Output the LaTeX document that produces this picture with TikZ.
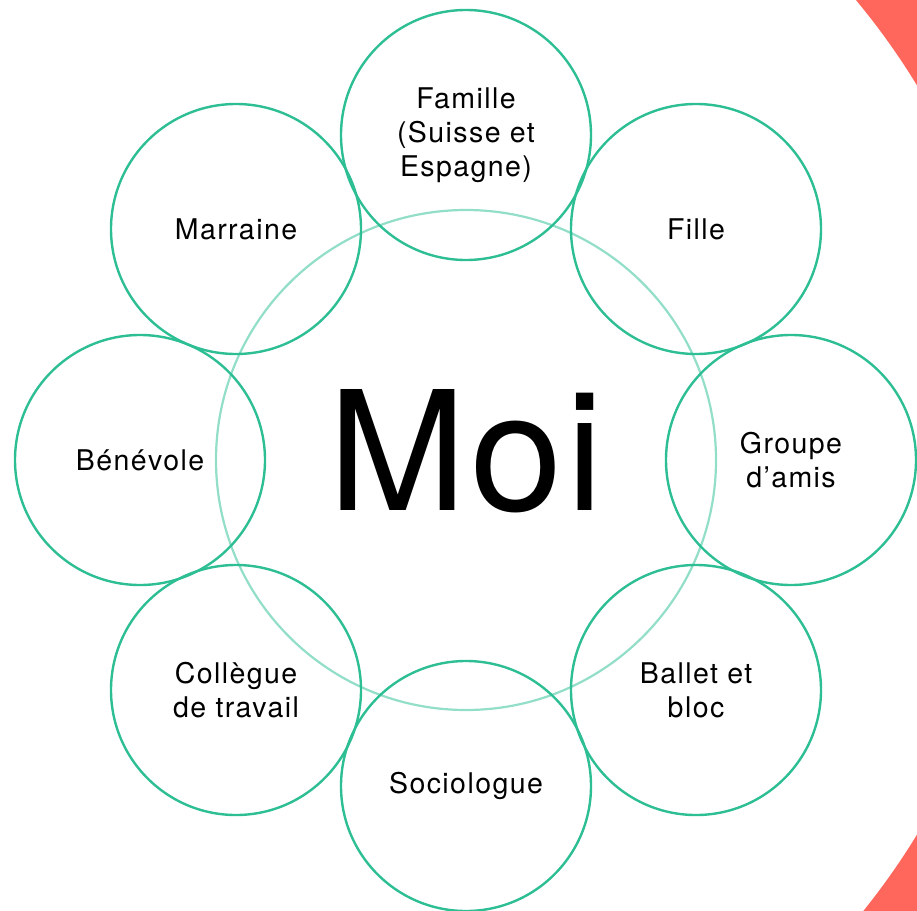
\documentclass[tikz,border=0pt]{standalone}
\usepackage{fontspec}
\setmainfont{TeX Gyre Heros}
\newfontfamily\lblfont[LetterSpace=5]{TeX Gyre Heros}
\definecolor{ringgreen}{HTML}{2DBE94}
\definecolor{coregreen}{HTML}{92DEC8}
\definecolor{accentred}{HTML}{FF675C}
\begin{document}
\begin{tikzpicture}[x=1pt,y=-1pt,
  satellite/.style={circle,draw=ringgreen,line width=2.4pt,minimum size=250pt,inner sep=0pt,
    align=center,font=\lblfont\fontsize{28.5}{34}\selectfont,text=black},
  core/.style={circle,draw=coregreen,line width=2.2pt,minimum size=500pt,inner sep=0pt}]
\useasboundingbox (0,0) rectangle (917,910);
\begin{scope}
  \clip (0,0) rectangle (917,910);
  \fill[accentred,even odd rule] (-10,-10) rectangle (927,920) (302,460) circle[radius=720];
\end{scope}
\node[core] (moi) at (466,460) {};
\node (moitext) at (466,451) {\fontsize{166}{166}\selectfont\addfontfeature{LetterSpace=2}Moi};
\node[satellite] (famille) at (466,135) {Famille\\(Suisse et\\Espagne)};
\node[satellite] (fille) at (696,229) {Fille};
\node[satellite] (groupe) at (791,460) {Groupe\\d’amis};
\node[satellite] (ballet) at (696,690) {Ballet et\\bloc};
\node[satellite] (socio) at (466,786) {Sociologue};
\node[satellite] (collegue) at (236,690) {Collègue\\de travail};
\node[satellite] (benevole) at (140,460) {Bénévole};
\node[satellite] (marraine) at (236,229) {Marraine};
\end{tikzpicture}
\end{document}
